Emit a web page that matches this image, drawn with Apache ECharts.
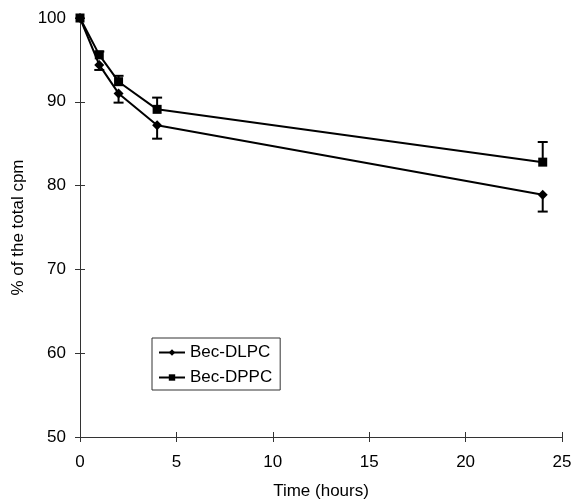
<!DOCTYPE html>
<html>
<head>
<meta charset="utf-8">
<script src="https://cdn.jsdelivr.net/npm/echarts@6/dist/echarts.min.js"></script>
<style>
  html, body { margin: 0; padding: 0; background: #fff; }
  #chart { width: 582px; height: 500px; }
</style>
</head>
<body>
<div id="chart"></div>
<script>
// time points (hours)
const hours = [0, 1, 2, 4, 24];
// % of the total cpm
const dlpc = [100, 94.4, 91.0, 87.2, 78.9];
const dppc = [100, 95.6, 92.4, 89.1, 82.8];
// error bar sizes (DLPC drawn downwards, DPPC upwards)
const dlpcErr = [0, 0.6, 1.1, 1.6, 2.0];
const dppcErr = [0, 0.4, 0.7, 1.4, 2.4];

const chart = echarts.init(document.getElementById('chart'));

// error bars as custom series
function errorSeries(vals, errs, dir) {
    const data = hours.map((h, i) => [h, vals[i], vals[i] + dir * errs[i]]);
    return {
        type: 'custom',
        silent: true,
        z: 1,
        data: data,
        renderItem: function (params, api) {
            if (api.value(1) === api.value(2)) return;
            const a = api.coord([api.value(0), api.value(1)]);
            const b = api.coord([api.value(0), api.value(2)]);
            const style = { stroke: '#000', lineWidth: 2 };
            return {
                type: 'group',
                children: [
                    { type: 'line', shape: { x1: a[0], y1: a[1], x2: b[0], y2: b[1] }, style: style },
                    { type: 'line', shape: { x1: b[0] - 5, y1: b[1], x2: b[0] + 5, y2: b[1] }, style: style }
                ]
            };
        }
    };
}

const axisFont = { fontFamily: 'Liberation Sans, Arial', fontSize: 17, color: '#000' };

const options = {
    animation: false,
    grid: { left: 80, right: 20, top: 18, bottom: 63, outerBoundsMode: 'none' },
    legend: {
        orient: 'vertical',
        left: 152,
        top: 338,
        padding: [6, 8, 4, 6],
        itemGap: 8,
        itemWidth: 26,
        itemHeight: 8,
        borderColor: '#333',
        borderWidth: 1,
        textStyle: { fontFamily: 'Liberation Sans, Arial', fontSize: 17, color: '#000' },
        data: ['Bec-DLPC', 'Bec-DPPC']
    },
    xAxis: [{
        type: 'value', min: 0, max: 25, interval: 5,
        name: 'Time (hours)', nameLocation: 'middle', nameGap: 46,
        nameTextStyle: axisFont,
        axisLine: { lineStyle: { color: '#333', width: 1 } },
        axisTick: { length: 5, lineStyle: { color: '#333' } },
        axisLabel: Object.assign({ margin: 17 }, axisFont),
        splitLine: { show: false }
    }, {
        type: 'value', min: 0, max: 25, interval: 5, position: 'bottom',
        axisLine: { show: false },
        axisTick: { inside: true, length: 5, lineStyle: { color: '#333' } },
        axisLabel: { show: false },
        splitLine: { show: false }
    }],
    yAxis: [{
        type: 'value', min: 50, max: 100, interval: 10,
        name: '% of the total cpm', nameLocation: 'middle', nameGap: 53,
        nameTextStyle: axisFont,
        axisLine: { show: true, lineStyle: { color: '#333', width: 1 } },
        axisTick: { show: true, length: 5, lineStyle: { color: '#333' } },
        axisLabel: Object.assign({ margin: 14 }, axisFont),
        splitLine: { show: false }
    }, {
        type: 'value', min: 50, max: 100, interval: 10, position: 'left',
        axisLine: { show: false },
        axisTick: { show: true, inside: true, length: 5, lineStyle: { color: '#333' } },
        axisLabel: { show: false },
        splitLine: { show: false }
    }],
    series: [
        {
            name: 'Bec-DLPC', type: 'line', z: 3,
            data: hours.map((h, i) => [h, dlpc[i]]),
            symbol: 'diamond', symbolSize: 10,
            lineStyle: { color: '#000', width: 2 },
            itemStyle: { color: '#000' }
        },
        {
            name: 'Bec-DPPC', type: 'line', z: 3,
            data: hours.map((h, i) => [h, dppc[i]]),
            symbol: 'rect', symbolSize: 9,
            lineStyle: { color: '#000', width: 2 },
            itemStyle: { color: '#000' }
        },
        errorSeries(dlpc, dlpcErr, -1),
        errorSeries(dppc, dppcErr, 1)
    ]
};

chart.setOption(options);
</script>
</body>
</html>
